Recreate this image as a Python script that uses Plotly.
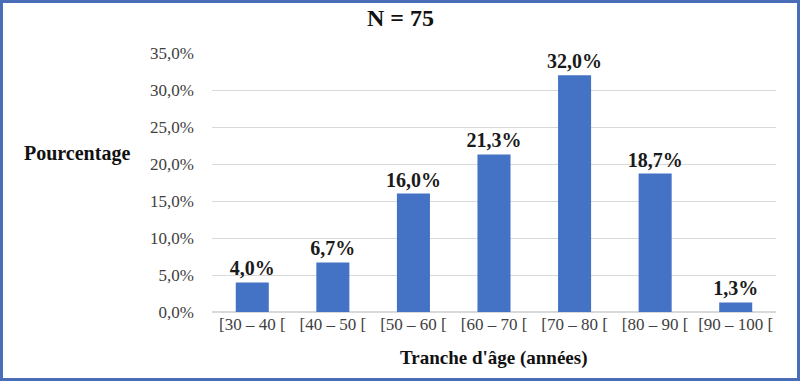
import plotly.graph_objects as go

categories = ["[30 – 40 [", "[40 – 50 [", "[50 – 60 [", "[60 – 70 [", "[70 – 80 [", "[80 – 90 [", "[90 – 100 ["]
values = [4.0, 6.7, 16.0, 21.3, 32.0, 18.7, 1.3]
value_labels = ["4,0%", "6,7%", "16,0%", "21,3%", "32,0%", "18,7%", "1,3%"]
y_ticks = [0, 5, 10, 15, 20, 25, 30, 35]
y_tick_labels = ["0,0%", "5,0%", "10,0%", "15,0%", "20,0%", "25,0%", "30,0%", "35,0%"]

W, H = 800, 381
ML, MR, MT, MB = 212, 24, 53, 69
PW, PH = W - ML - MR, H - MT - MB
FONT = "Liberation Serif"

fig = go.Figure(go.Bar(
    x=categories, y=values,
    marker=dict(color="#4472C4", line=dict(width=0)),
    text=["<b>" + t + "</b>" for t in value_labels], textposition="outside",
    constraintext="none",
    textfont=dict(family=FONT, size=20, color="#1a1a1a"),
    cliponaxis=False,
))

fig.update_layout(
    width=W, height=H,
    margin=dict(l=ML, r=MR, t=MT, b=MB),
    paper_bgcolor="white", plot_bgcolor="white",
    bargap=0.59,
    showlegend=False,
    font=dict(family=FONT, color="#595959"),
    xaxis=dict(tickfont=dict(family=FONT, size=17, color="#404040"), showgrid=False,
               showline=False, ticks=""),
    yaxis=dict(range=[0, 35], tickvals=y_ticks, ticktext=y_tick_labels,
               tickfont=dict(family=FONT, size=17, color="#404040"),
               showgrid=True, gridcolor="#D9D9D9", gridwidth=1, zeroline=True,
               zerolinecolor="#D9D9D9", ticks="", ticklabelstandoff=17),
    annotations=[
        dict(text="<b>N = 75</b>", x=(400 - ML) / PW, xref="paper", xanchor="center",
             y=(H - 18 - MB) / PH, yref="paper", yanchor="middle", showarrow=False,
             font=dict(family=FONT, size=24, color="#111111")),
        dict(text="<b>Pourcentage</b>", x=-(ML - 22) / PW, xref="paper", xanchor="left",
             y=(H - 153 - MB) / PH, yref="paper", yanchor="middle", showarrow=False,
             font=dict(family=FONT, size=20, color="#111111")),
        dict(text="<b>Tranche d'âge (années)</b>", x=0.5, xref="paper",
             xanchor="center", y=(H - 358 - MB) / PH, yref="paper", yanchor="middle",
             showarrow=False, font=dict(family=FONT, size=19, color="#111111")),
    ],
    shapes=[
        dict(type="rect", xref="paper", yref="paper",
             x0=-(ML - 1.5) / PW, x1=(W - ML - 1.5) / PW,
             y0=-(MB - 1.5) / PH, y1=(H - MB - 1.5) / PH,
             line=dict(color="#4A6DB8", width=3), fillcolor="rgba(0,0,0,0)", layer="above"),
    ],
)

fig.write_html("out.html", config={"displayModeBar": False},
               post_script="document.body.style.margin='0';document.body.style.overflow='hidden';")
